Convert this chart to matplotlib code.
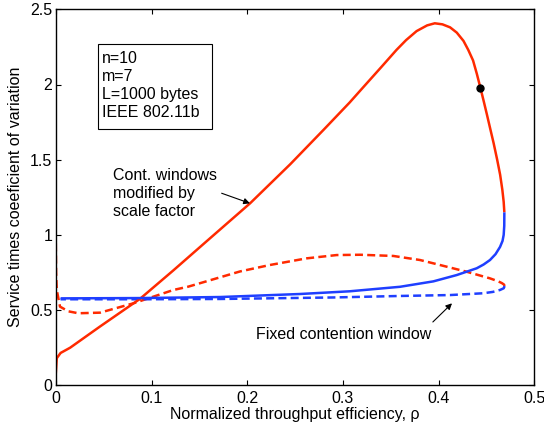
import matplotlib
matplotlib.use("Agg")
import matplotlib.pyplot as plt
from matplotlib.patches import Rectangle

plt.rcParams['font.family'] = ['Liberation Sans', 'DejaVu Sans']

# Red solid branch (contention windows modified by scale factor)
red_solid_x = [0.000, 0.001, 0.005, 0.015, 0.046, 0.088, 0.123, 0.158, 0.203, 0.245,
               0.280, 0.307, 0.321, 0.340, 0.356, 0.366, 0.377, 0.388, 0.396, 0.404,
               0.412, 0.419, 0.426, 0.431, 0.436, 0.440, 0.4436, 0.4471, 0.4505,
               0.4538, 0.4575, 0.4612, 0.4643, 0.4666, 0.4680, 0.4687]
red_solid_y = [0.08, 0.18, 0.215, 0.25, 0.39, 0.575, 0.765, 0.96, 1.21, 1.47,
               1.70, 1.88, 1.98, 2.115, 2.23, 2.295, 2.355, 2.393, 2.407, 2.40,
               2.38, 2.345, 2.29, 2.23, 2.16, 2.07, 1.98, 1.89, 1.80,
               1.71, 1.61, 1.50, 1.40, 1.30, 1.22, 1.15]
# Blue solid branch
blue_solid_x = [0.4687, 0.4686, 0.4680, 0.4668, 0.4642, 0.4595, 0.4537, 0.447, 0.4398,
                0.4189, 0.3945, 0.3597, 0.307, 0.255, 0.172, 0.088, 0.005]
blue_solid_y = [1.15, 1.06, 1.00, 0.96, 0.92, 0.872, 0.833, 0.803, 0.778,
                0.733, 0.691, 0.655, 0.625, 0.607, 0.587, 0.580, 0.578]
# Red dashed branch (fixed contention window)
red_dash_x = [0.000, 0.0003, 0.001, 0.0044, 0.0130, 0.0235, 0.0462, 0.081, 0.123, 0.1385,
              0.1925, 0.2238, 0.262, 0.2935, 0.318, 0.3527, 0.3806, 0.3945, 0.4294,
              0.4537, 0.462, 0.466, 0.4683, 0.4690]
red_dash_y = [0.944, 0.75, 0.634, 0.523, 0.492, 0.479, 0.483, 0.545, 0.634, 0.656,
              0.757, 0.800, 0.844, 0.866, 0.868, 0.860, 0.833, 0.811, 0.755,
              0.711, 0.692, 0.680, 0.670, 0.660]
# Blue dashed branch
blue_dash_x = [0.4690, 0.4680, 0.4642, 0.4567, 0.4467, 0.4119, 0.3597, 0.29, 0.1716,
               0.088, 0.005]
blue_dash_y = [0.660, 0.645, 0.634, 0.621, 0.612, 0.600, 0.594, 0.584, 0.574,
               0.572, 0.572]
# Marked point
dot_x = [0.4436]
dot_y = [1.979]

info_lines = ["n=10", "m=7", "L=1000 bytes", "IEEE 802.11b"]
cont_lines = ["Cont. windows", "modified by", "scale factor"]
xticks = [0, 0.1, 0.2, 0.3, 0.4, 0.5]
yticks = [0, 0.5, 1, 1.5, 2, 2.5]
xtick_labels = ["0", "0.1", "0.2", "0.3", "0.4", "0.5"]
ytick_labels = ["0", "0.5", "1", "1.5", "2", "2.5"]

RED = '#ff2a00'
BLUE = '#1f3fff'

fig = plt.figure(figsize=(5.44, 4.25), dpi=100)
ax = fig.add_axes([55.8/544, 1-385.3/425, (534.3-55.8)/544, (385.3-9.3)/425])

lw = 1.8
dash = (0, (3.2, 1.7))
ax.plot(red_dash_x, red_dash_y, color=RED, lw=lw, linestyle=dash)
ax.plot(blue_dash_x, blue_dash_y, color=BLUE, lw=lw, linestyle=dash)
ax.plot(red_solid_x, red_solid_y, color=RED, lw=lw, solid_capstyle='butt',
        solid_joinstyle='round')
ax.plot(blue_solid_x, blue_solid_y, color=BLUE, lw=lw, solid_capstyle='butt',
        solid_joinstyle='round')
ax.plot(dot_x, dot_y, 'o', color='black', ms=5, zorder=5)

ax.set_xlim(0, 0.5)
ax.set_ylim(0, 2.5)
ax.set_xticks(xticks)
ax.set_xticklabels(xtick_labels)
ax.set_yticks(yticks)
ax.set_yticklabels(ytick_labels)
ax.tick_params(direction='in', length=3.5, width=0.8, top=True, right=True,
               labelsize=11.5, colors='black')
ax.tick_params(axis='x', pad=4)
ax.tick_params(axis='y', pad=2.5)
for s in ax.spines.values():
    s.set_linewidth(1.0)
    s.set_color('black')

ax.set_xlabel("Normalized throughput efficiency, ρ", fontsize=11.5, labelpad=1)
ax.set_ylabel("Service times coeeficient of variation", fontsize=11.5, labelpad=5)

# Info box
ax.add_patch(Rectangle((0.0444, 1.702), 0.1629-0.0444, 2.269-1.702, fill=False,
                       lw=0.8, edgecolor='black', zorder=4))
for i, t in enumerate(info_lines):
    ax.text(0.0483, 2.141 - i*0.1197, t, fontsize=11.5, va='baseline', ha='left')

for i, t in enumerate(cont_lines):
    ax.text(0.0601, 1.366 - i*0.12, t, fontsize=11.5, va='baseline', ha='left')

ax.text(0.209, 0.306, "Fixed contention window", fontsize=11.5, va='baseline', ha='left')

arrowprops = dict(arrowstyle='-|>', color='black', lw=0.8, mutation_scale=9,
                  shrinkA=0, shrinkB=0)
ax.annotate("", xy=(0.2029, 1.21), xytext=(0.1733, 1.277), arrowprops=arrowprops)
ax.annotate("", xy=(0.414, 0.545), xytext=(0.394, 0.421), arrowprops=arrowprops)

fig.savefig("out.png", dpi=100)
